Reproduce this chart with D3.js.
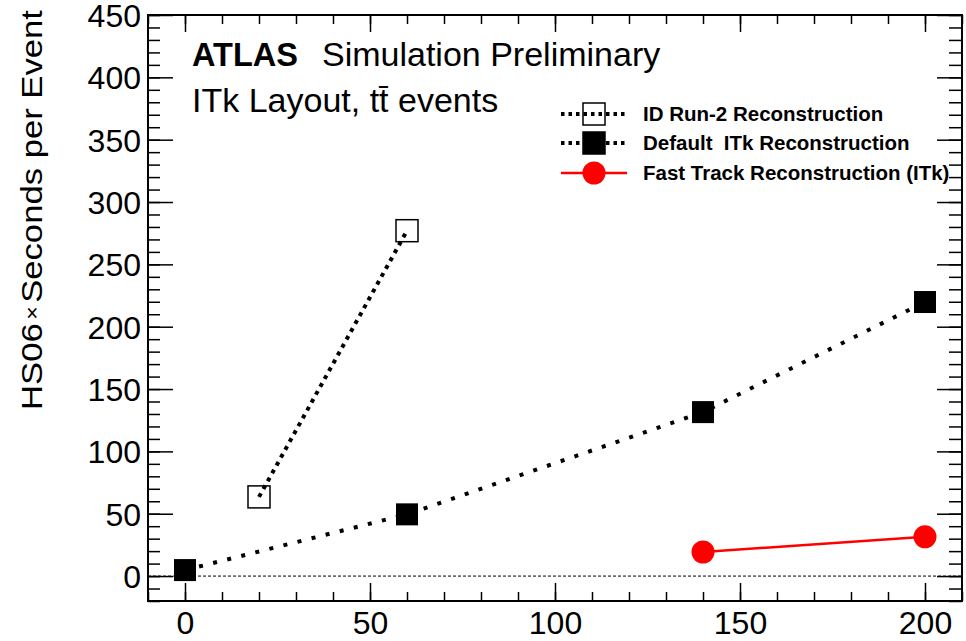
<!DOCTYPE html>
<html>
<head>
<meta charset="utf-8">
<script src="https://cdn.jsdelivr.net/npm/d3@7"></script>
<style>
    body { margin: 0; background: #fff; }
    text { font-family: "Liberation Sans", Arial, Helvetica, sans-serif; }
</style>
</head>
<body>
<div id="chart"></div>
<script>
// values
var run2_mu = [20, 60];
var run2_time = [63.5, 277];
var itk_mu = [0, 60, 140, 200];
var itk_time = [4.8, 49.5, 131.5, 219.8];
var fast_mu = [140, 200];
var fast_time = [19.3, 31.5];

var x_ticks = [0, 50, 100, 150, 200];
var y_ticks = [0, 50, 100, 150, 200, 250, 300, 350, 400, 450];
var legend_labels = ["ID Run-2 Reconstruction", "Default  ITk Reconstruction", "Fast Track Reconstruction (ITk)"];

var width = 966, height = 641;
var margin = {top: 15, right: 4, bottom: 40, left: 148};
var plot_w = width - margin.left - margin.right,
    plot_h = height - margin.top - margin.bottom;

var svg = d3.select("#chart")
    .append("svg")
        .attr("width", width)
        .attr("height", height);

var g = svg.append("g")
    .attr("transform", "translate(" + margin.left + "," + margin.top + ")");

var x = d3.scaleLinear().domain([-10, 210]).range([0, plot_w]);
var y = d3.scaleLinear().domain([-20, 450]).range([plot_h, 0]);

var minor_x = d3.range(-10, 211, 10);
var minor_y = d3.range(-20, 451, 10);

function clean(sel){
    sel.select(".domain").remove();
    sel.selectAll("line").attr("stroke", "#000").attr("stroke-width", 1.5);
}

// minor ticks on all four sides
g.append("g").call(d3.axisLeft(y).tickValues(minor_y).tickSizeInner(-12).tickSizeOuter(0).tickFormat("")).call(clean);
g.append("g").attr("transform", "translate(" + plot_w + ",0)")
    .call(d3.axisRight(y).tickValues(minor_y).tickSizeInner(-13).tickSizeOuter(0).tickFormat("")).call(clean);
g.append("g").attr("transform", "translate(0," + plot_h + ")")
    .call(d3.axisBottom(x).tickValues(minor_x).tickSizeInner(-9).tickSizeOuter(0).tickFormat("")).call(clean);
g.append("g")
    .call(d3.axisTop(x).tickValues(minor_x).tickSizeInner(-9).tickSizeOuter(0).tickFormat("")).call(clean);

// major ticks + labels
var y_axis = g.append("g")
    .attr("class", "y-axis")
    .call(d3.axisLeft(y).tickValues(y_ticks).tickSizeInner(-25).tickSizeOuter(0).tickPadding(7))
    .call(clean);
y_axis.selectAll("text").attr("font-size", "32px").attr("fill", "#000").attr("dy", "0.36em");

g.append("g").attr("transform", "translate(" + plot_w + ",0)")
    .call(d3.axisRight(y).tickValues(y_ticks).tickSizeInner(-25).tickSizeOuter(0).tickFormat(""))
    .call(clean);

var x_axis = g.append("g")
    .attr("class", "x-axis")
    .attr("transform", "translate(0," + plot_h + ")")
    .call(d3.axisBottom(x).tickValues(x_ticks).tickSizeInner(-18).tickSizeOuter(0).tickPadding(10))
    .call(clean);
x_axis.selectAll("text").attr("font-size", "32px").attr("fill", "#000");

g.append("g")
    .call(d3.axisTop(x).tickValues(x_ticks).tickSizeInner(-17).tickSizeOuter(0).tickFormat(""))
    .call(clean);

// zero line
g.append("path")
    .attr("d", d3.line()([[x(-10), y(0)], [x(210), y(0)]]))
    .attr("stroke", "#000")
    .attr("stroke-width", 1)
    .attr("stroke-dasharray", "3,2")
    .attr("fill", "none");

// frame
g.append("rect")
    .attr("width", plot_w)
    .attr("height", plot_h)
    .attr("fill", "none")
    .attr("stroke", "#000")
    .attr("stroke-width", 2);

var line = d3.line()
    .x(function(d) { return x(d[0]); })
    .y(function(d) { return y(d[1]); });

var run2 = d3.zip(run2_mu, run2_time);
var itk = d3.zip(itk_mu, itk_time);
var fast = d3.zip(fast_mu, fast_time);

g.append("path").datum(run2)
    .attr("d", line)
    .attr("fill", "none")
    .attr("stroke", "#000")
    .attr("stroke-width", 4)
    .attr("stroke-dasharray", "4,5");

g.append("path").datum(itk)
    .attr("d", line)
    .attr("fill", "none")
    .attr("stroke", "#000")
    .attr("stroke-width", 4)
    .attr("stroke-dasharray", "4,10.5");

g.append("path").datum(fast)
    .attr("d", line)
    .attr("fill", "none")
    .attr("stroke", "#f00")
    .attr("stroke-width", 2.5);

var sq = 22;
g.selectAll(".run2-dot").data(run2).enter()
    .append("rect")
        .attr("class", "run2-dot")
        .attr("x", function(d) { return x(d[0]) - sq/2; })
        .attr("y", function(d) { return y(d[1]) - sq/2; })
        .attr("width", sq)
        .attr("height", sq)
        .attr("fill", "none")
        .attr("stroke", "#000")
        .attr("stroke-width", 1.5);

g.selectAll(".itk-dot").data(itk).enter()
    .append("rect")
        .attr("class", "itk-dot")
        .attr("x", function(d) { return x(d[0]) - sq/2; })
        .attr("y", function(d) { return y(d[1]) - sq/2; })
        .attr("width", sq)
        .attr("height", sq)
        .attr("fill", "#000");

g.selectAll(".fast-dot").data(fast).enter()
    .append("circle")
        .attr("class", "fast-dot")
        .attr("cx", function(d) { return x(d[0]); })
        .attr("cy", function(d) { return y(d[1]); })
        .attr("r", 11.5)
        .attr("fill", "#f00");

// y title, stretched along its length like the reference
svg.append("text")
    .attr("transform", "translate(42,10) rotate(-90)")
    .attr("text-anchor", "end")
    .attr("font-size", "30px")
    .attr("textLength", 400)
    .attr("lengthAdjust", "spacingAndGlyphs")
    .html('HS06<tspan font-size="20px" dx="3" dy="-3">×</tspan><tspan dx="3" dy="3">Seconds per Event</tspan>');

// labels
svg.append("text")
    .attr("x", 192).attr("y", 66)
    .attr("font-size", "32.5px")
    .attr("font-weight", "bold")
    .text("ATLAS");
svg.append("text")
    .attr("x", 322).attr("y", 66)
    .attr("font-size", "34px")
    .text("Simulation Preliminary");
svg.append("text")
    .attr("x", 192).attr("y", 112)
    .attr("font-size", "34px")
    .text("ITk Layout, tt\u0304 events");

// legend
var leg_y = [114, 143, 173];
var leg = svg.selectAll(".legend").data(legend_labels).enter()
    .append("g")
        .attr("class", "legend")
        .attr("transform", function(d, i) { return "translate(0," + leg_y[i] + ")"; });

leg.append("line")
    .attr("x1", 561).attr("x2", 627)
    .attr("stroke", function(d, i) { return i == 2 ? "#f00" : "#000"; })
    .attr("stroke-width", function(d, i) { return i == 2 ? 2.5 : 4; })
    .attr("stroke-dasharray", function(d, i) { return i == 2 ? null : "3.5,4"; });

leg.each(function(d, i){
    var s = d3.select(this);
    if(i == 2){
        s.append("circle").attr("cx", 594).attr("r", 11.5).attr("fill", "#f00");
    }else{
        s.append("rect")
            .attr("x", 594 - sq/2).attr("y", -sq/2)
            .attr("width", sq).attr("height", sq)
            .attr("fill", i == 0 ? "none" : "#000")
            .attr("stroke", "#000")
            .attr("stroke-width", 1.5);
    }
});

leg.append("text")
    .attr("x", 643)
    .attr("y", 7)
    .attr("font-size", "20.5px")
    .attr("font-weight", "bold")
    .style("white-space", "pre")
    .text(function(d) { return d; });
</script>
</body>
</html>
